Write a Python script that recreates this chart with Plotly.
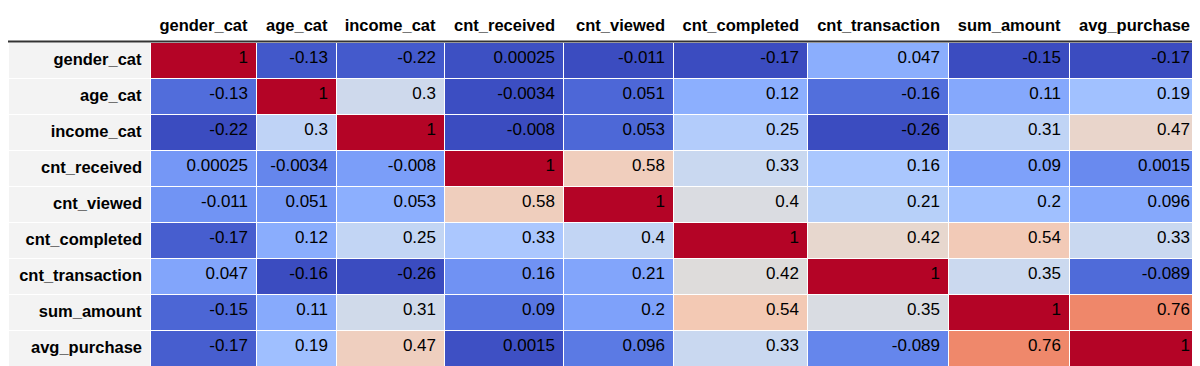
import plotly.graph_objects as go

labels = ["gender_cat", "age_cat", "income_cat", "cnt_received", "cnt_viewed",
          "cnt_completed", "cnt_transaction", "sum_amount", "avg_purchase"]

gender_cat = [1, -0.13, -0.22, 0.00025, -0.011, -0.17, 0.047, -0.15, -0.17]
age_cat = [-0.13, 1, 0.3, -0.0034, 0.051, 0.12, -0.16, 0.11, 0.19]
income_cat = [-0.22, 0.3, 1, -0.008, 0.053, 0.25, -0.26, 0.31, 0.47]
cnt_received = [0.00025, -0.0034, -0.008, 1, 0.58, 0.33, 0.16, 0.09, 0.0015]
cnt_viewed = [-0.011, 0.051, 0.053, 0.58, 1, 0.4, 0.21, 0.2, 0.096]
cnt_completed = [-0.17, 0.12, 0.25, 0.33, 0.4, 1, 0.42, 0.54, 0.33]
cnt_transaction = [0.047, -0.16, -0.26, 0.16, 0.21, 0.42, 1, 0.35, -0.089]
sum_amount = [-0.15, 0.11, 0.31, 0.09, 0.2, 0.54, 0.35, 1, 0.76]
avg_purchase = [-0.17, 0.19, 0.47, 0.0015, 0.096, 0.33, -0.089, 0.76, 1]

columns = [gender_cat, age_cat, income_cat, cnt_received, cnt_viewed,
           cnt_completed, cnt_transaction, sum_amount, avg_purchase]

# matplotlib "coolwarm" (Moreland) anchor table
COOLWARM = [
    (59, 76, 192), (68, 90, 204), (77, 104, 215), (87, 117, 225), (98, 130, 234),
    (108, 142, 241), (119, 154, 247), (130, 165, 251), (141, 176, 254), (152, 185, 255),
    (163, 194, 255), (174, 201, 253), (184, 208, 249), (194, 213, 244), (204, 217, 238),
    (213, 219, 230), (221, 221, 221), (229, 216, 209), (236, 211, 197), (241, 204, 185),
    (245, 196, 173), (247, 187, 160), (247, 177, 148), (247, 166, 135), (244, 154, 123),
    (241, 141, 111), (236, 127, 99), (229, 112, 88), (222, 96, 77), (213, 80, 66),
    (203, 62, 56), (192, 40, 47), (180, 4, 38)]


def coolwarm(t):
    t = min(max(t, 0.0), 1.0)
    pos = t * (len(COOLWARM) - 1)
    i = min(int(pos), len(COOLWARM) - 2)
    f = pos - i
    a, b = COOLWARM[i], COOLWARM[i + 1]
    r, g, bl = (round(a[k] + (b[k] - a[k]) * f) for k in range(3))
    return f"rgb({r},{g},{bl})"


def fmt(v):
    return f"{v:.2g}"


# column-wise gradient (pandas background_gradient default axis=0)
fills = ["#f3f3f3"]
texts = [[f"<b>{l}</b>" for l in labels]]
for col in columns:
    lo, hi = min(col), max(col)
    fills.append([coolwarm((v - lo) / (hi - lo)) for v in col])
    texts.append([fmt(v) for v in col])

colwidths = [142, 106, 80, 108, 119, 110, 134, 141, 121, 129]

W, H = 1200, 366
OFF = 8  # page body margin
header_h = 34
row_h = 36
total_h = header_h + row_h * len(labels)

fig = go.Figure(go.Table(
    domain=dict(x=[0, sum(colwidths) / W], y=[1 - (total_h + 0.5) / H, 1]),
    columnwidth=colwidths,
    header=dict(
        values=[""] + [f"<b>{l}</b>" for l in labels],
        align="right",
        fill_color="white",
        line=dict(color="white", width=0),
        font=dict(family="Liberation Sans, Arial", size=16.5, color="black"),
        height=header_h,
    ),
    cells=dict(
        values=texts,
        align="right",
        fill_color=fills,
        line=dict(color="white", width=1),
        font=dict(family="Liberation Sans, Arial",
                  size=[16.5] + [17] * len(labels), color="black"),
        height=row_h,
    ),
))

yline = 1 - (header_h - 0.5) / H
fig.add_shape(type="line", xref="paper", yref="paper",
              x0=0, x1=sum(colwidths) / W, y0=yline, y1=yline,
              line=dict(color="#333333", width=2), layer="above")

fig.update_layout(width=W, height=H, margin=dict(l=0, r=0, t=0, b=0),
                  paper_bgcolor="white")

fig.write_html("out.html")
